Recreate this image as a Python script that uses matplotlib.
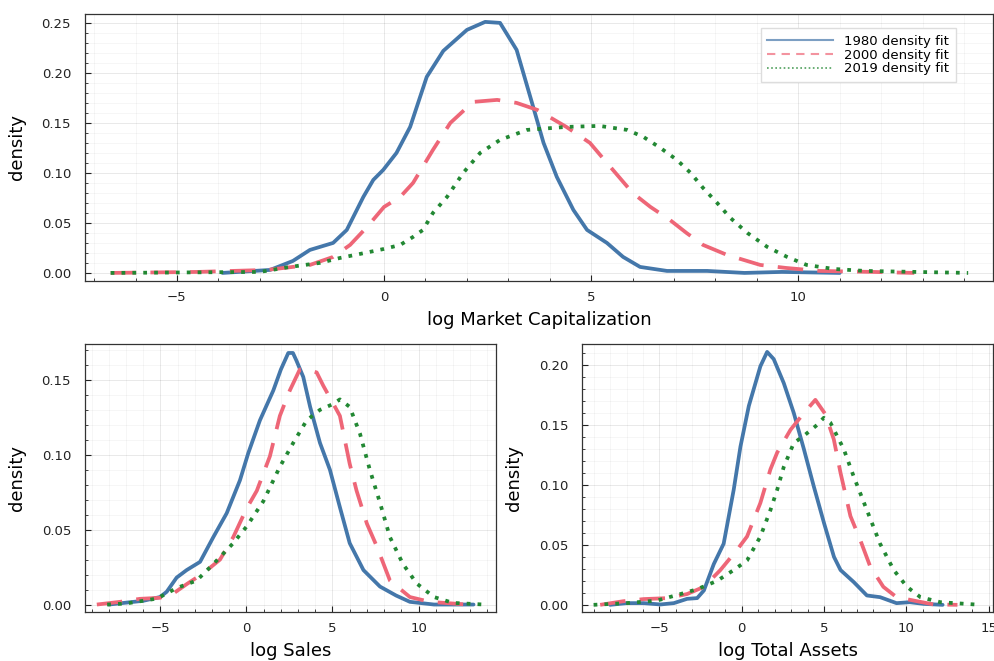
import matplotlib.pyplot as plt
from matplotlib.ticker import MultipleLocator

BLUE = "#4477AA"
PINK = "#EE6677"
GREEN = "#228833"

# log Market Capitalization
mcap_1980_x = [-3.9, -2.75, -2.2, -1.79, -1.23, -0.9, -0.5, -0.26, -0.02, 0.3, 0.63, 1.03, 1.43, 2.0, 2.44, 2.8,
               3.2, 3.6, 3.85, 4.17, 4.57, 4.9, 5.38, 5.77, 6.18, 6.83, 7.8, 8.7, 9.6, 11.0]
mcap_1980_y = [0.0, 0.003, 0.012, 0.023, 0.030, 0.043, 0.076, 0.093, 0.103, 0.12, 0.146, 0.196, 0.222, 0.243, 0.251, 0.25,
               0.223, 0.166, 0.13, 0.096, 0.063, 0.043, 0.030, 0.016, 0.006, 0.002, 0.002, 0.0, 0.001, 0.0]
mcap_2000_x = [-6.6, -4.5, -2.83, -1.79, -1.23, -0.82, -0.41, 0.0, 0.39, 0.7, 1.18, 1.6, 2.15, 2.73, 3.2, 3.7,
               4.4, 4.97, 5.38, 6.0, 6.43, 6.9, 7.3, 7.7, 8.28, 9.08, 9.7, 10.5, 11.8, 12.8]
mcap_2000_y = [0.0, 0.001, 0.003, 0.008, 0.016, 0.028, 0.046, 0.066, 0.076, 0.09, 0.123, 0.15, 0.171, 0.173, 0.170, 0.163,
               0.146, 0.13, 0.11, 0.08, 0.066, 0.053, 0.04, 0.028, 0.018, 0.008, 0.005, 0.002, 0.001, 0.0]
mcap_2019_x = [-6.6, -3.0, -2.27, -1.55, -1.06, -0.58, 0.0, 0.39, 0.7, 0.94, 1.18, 1.52, 1.91, 2.32, 2.8, 3.45,
               4.4, 5.2, 5.87, 6.26, 6.67, 7.07, 7.4, 7.7, 8.04, 8.36, 8.77, 9.25, 9.73, 10.2, 10.85, 11.6, 14.1]
mcap_2019_y = [0.0, 0.001, 0.006, 0.01, 0.015, 0.019, 0.024, 0.028, 0.036, 0.043, 0.06, 0.076, 0.1, 0.12, 0.133, 0.143,
               0.146, 0.147, 0.143, 0.136, 0.125, 0.113, 0.1, 0.085, 0.07, 0.055, 0.04, 0.026, 0.016, 0.008, 0.004, 0.002, 0.0]

# log Sales
sales_1980_x = [-8.0, -6.0, -5.03, -4.64, -4.06, -3.48, -2.7, -1.93, -1.15, -0.38, 0.1, 0.78, 1.56, 2.0, 2.43, 2.7, 2.9,
                3.3, 3.7, 4.27, 4.85, 5.43, 6.0, 6.8, 7.76, 8.7, 9.5, 10.9, 13.2]
sales_1980_y = [0.0, 0.0025, 0.005, 0.0085, 0.018, 0.023, 0.0285, 0.045, 0.061, 0.083, 0.101, 0.123, 0.143, 0.157, 0.168, 0.168, 0.163,
                0.152, 0.132, 0.108, 0.09, 0.065, 0.041, 0.023, 0.012, 0.006, 0.0018, 0.0, 0.0]
sales_2000_x = [-8.7, -7.35, -6.2, -5.03, -4.25, -3.48, -2.5, -1.54, -0.77, 0.0, 0.6, 1.36, 1.94, 2.52, 3.1, 3.5,
                4.08, 4.47, 5.05, 5.43, 6.0, 6.4, 7.0, 7.57, 8.34, 9.5, 10.67, 12.8]
sales_2000_y = [0.0, 0.0018, 0.0038, 0.0045, 0.0074, 0.0136, 0.021, 0.03, 0.045, 0.064, 0.076, 0.099, 0.126, 0.143, 0.157, 0.157,
                0.155, 0.146, 0.134, 0.126, 0.094, 0.076, 0.054, 0.039, 0.016, 0.005, 0.0018, 0.0]
sales_2019_x = [-8.1, -7.0, -5.2, -4.06, -2.9, -1.93, -0.77, 0.0, 0.98, 1.94, 2.72, 3.5, 4.27, 5.05, 5.43, 6.0,
                6.6, 7.17, 7.76, 8.34, 9.1, 9.9, 10.9, 12.0, 13.8]
sales_2019_y = [0.0, 0.0007, 0.004, 0.011, 0.016, 0.027, 0.041, 0.052, 0.069, 0.092, 0.108, 0.123, 0.13, 0.134, 0.137, 0.132,
                0.114, 0.09, 0.068, 0.045, 0.027, 0.014, 0.005, 0.0011, 0.0]

# log Total Assets
assets_1980_x = [-8.0, -7.0, -5.95, -4.94, -4.13, -3.32, -2.71, -2.3, -1.7, -1.1, -0.49, -0.08, 0.43, 1.13, 1.54, 1.94,
                 2.55, 3.16, 3.77, 4.37, 5.0, 5.6, 6.0, 6.8, 7.6, 8.4, 9.4, 10.2, 11.05, 12.2]
assets_1980_y = [0.0, 0.0014, 0.0014, 0.0003, 0.0014, 0.005, 0.0056, 0.012, 0.034, 0.051, 0.096, 0.132, 0.166, 0.199, 0.211, 0.205,
                 0.185, 0.16, 0.13, 0.099, 0.068, 0.04, 0.029, 0.019, 0.0078, 0.0064, 0.0014, 0.0022, 0.0008, 0.0]
assets_2000_x = [-8.6, -7.2, -5.95, -4.5, -3.32, -2.3, -1.3, -0.28, 0.32, 1.13, 1.74, 2.15, 2.96, 3.77, 4.47, 5.08,
                 5.59, 6.0, 6.6, 7.2, 7.8, 8.6, 9.4, 10.65, 11.66, 13.1]
assets_2000_y = [0.0, 0.003, 0.0048, 0.0056, 0.009, 0.015, 0.029, 0.046, 0.057, 0.085, 0.113, 0.127, 0.146, 0.16, 0.171, 0.159,
                 0.138, 0.11, 0.074, 0.054, 0.032, 0.015, 0.0064, 0.003, 0.0003, 0.0]
assets_2019_x = [-9.0, -7.0, -5.14, -3.72, -2.71, -1.5, -0.49, 0.32, 1.13, 1.74, 2.15, 2.55, 3.16, 3.77, 4.57, 4.98,
                 5.38, 6.19, 6.8, 7.6, 8.4, 9.23, 10.04, 10.85, 12.06, 14.5]
assets_2019_y = [0.0, 0.0014, 0.0036, 0.009, 0.013, 0.020, 0.029, 0.037, 0.057, 0.079, 0.096, 0.115, 0.135, 0.141, 0.15, 0.156,
                 0.152, 0.13, 0.107, 0.079, 0.051, 0.029, 0.015, 0.0064, 0.0022, 0.0]

labels = ["1980 density fit", "2000 density fit", "2019 density fit"]

plt.rcParams['font.family'] = ['DejaVu Sans']

fig = plt.figure(figsize=(9.95, 6.61), dpi=100)
ax1 = fig.add_axes([0.0854, 0.575, 0.9126, 0.404])
ax2 = fig.add_axes([0.0854, 0.0741, 0.413, 0.4055])
ax3 = fig.add_axes([0.585, 0.0741, 0.413, 0.4055])


def draw(ax, series):
    (x1, y1), (x2, y2), (x3, y3) = series
    ax.plot(x1, y1, color=BLUE, lw=2.7, solid_joinstyle='round', solid_capstyle='round', zorder=3)
    ax.plot(x2, y2, color=PINK, lw=2.7, dashes=(6.8, 3.8), dash_joinstyle='round', zorder=3)
    ax.plot(x3, y3, color=GREEN, lw=2.7, dashes=(1.0, 1.9), zorder=3)


draw(ax1, [(mcap_1980_x, mcap_1980_y), (mcap_2000_x, mcap_2000_y), (mcap_2019_x, mcap_2019_y)])
draw(ax2, [(sales_1980_x, sales_1980_y), (sales_2000_x, sales_2000_y), (sales_2019_x, sales_2019_y)])
draw(ax3, [(assets_1980_x, assets_1980_y), (assets_2000_x, assets_2000_y), (assets_2019_x, assets_2019_y)])

ax1.set_xlabel("log Market Capitalization", fontsize=13, labelpad=5)
ax2.set_xlabel("log Sales", fontsize=13, labelpad=5)
ax3.set_xlabel("log Total Assets", fontsize=13, labelpad=5)

for ax in (ax1, ax2, ax3):
    ax.set_ylabel("density", fontsize=13, labelpad=11)
    ax.xaxis.set_major_locator(MultipleLocator(5))
    ax.xaxis.set_minor_locator(MultipleLocator(1))
    ax.yaxis.set_major_locator(MultipleLocator(0.05))
    ax.yaxis.set_minor_locator(MultipleLocator(0.01))
    ax.yaxis.set_major_formatter(lambda v, p: f"{v:.2f}")
    ax.grid(True, which='major', color='black', alpha=0.1, lw=0.6)
    ax.grid(True, which='minor', color='black', alpha=0.05, lw=0.5)
    ax.set_axisbelow(True)
    ax.tick_params(which='both', direction='in', top=False, right=False, labelsize=9.5, colors='#222222')
    ax.tick_params(axis='y', which='major', pad=10)
    ax.tick_params(axis='x', which='major', pad=7)
    ax.tick_params(which='major', length=4, width=0.8)
    ax.tick_params(which='minor', length=2, width=0.6)
    for s in ax.spines.values():
        s.set_color('#333333')
        s.set_linewidth(0.9)

ax1.set_xlim(-7.22, 14.7)
ax1.set_ylim(-0.008, 0.259)
ax2.set_xlim(-9.39, 14.5)
ax2.set_ylim(-0.005, 0.174)
ax3.set_xlim(-9.7, 15.26)
ax3.set_ylim(-0.006, 0.2176)

handles = [
    plt.Line2D([], [], color=BLUE, lw=1.5, alpha=0.7),
    plt.Line2D([], [], color=PINK, lw=1.5, alpha=0.7, dashes=(4, 3)),
    plt.Line2D([], [], color=GREEN, lw=1.2, alpha=0.8, dashes=(1, 1.5)),
]
ax1.legend(handles, labels, loc='upper right', bbox_to_anchor=(0.966, 0.97), fontsize=9.5,
           handlelength=5.0, labelspacing=0.05, fancybox=False, framealpha=1.0,
           edgecolor='#dddddd', borderpad=0.5)

fig.savefig("out.png", dpi=100)
